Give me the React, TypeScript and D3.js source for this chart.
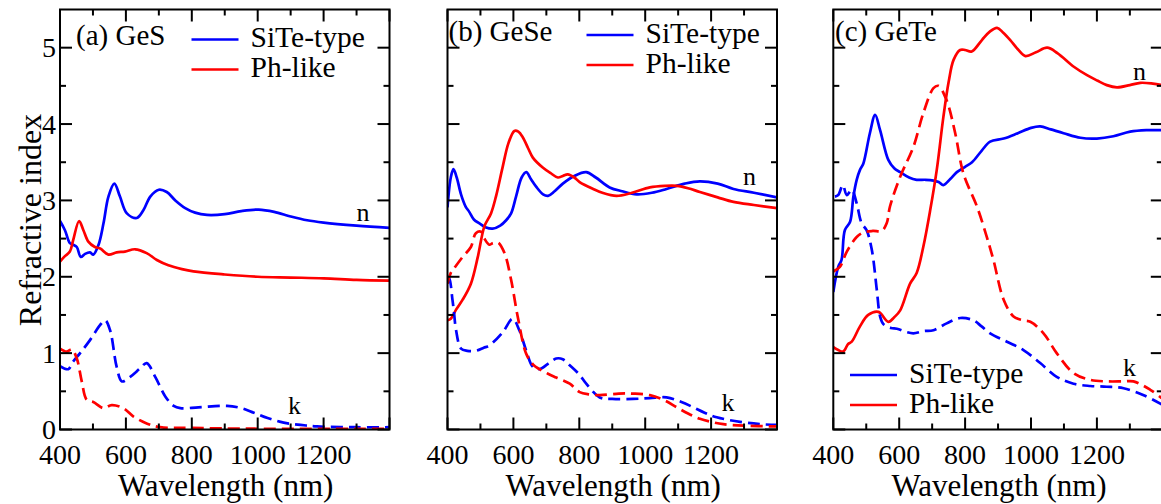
import React from "react";
import * as d3 from "d3";

// ---------- data (wavelength nm, value) ----------
const xTicksMajor = [400, 600, 800, 1000, 1200, 1400];
const xTickLabels = ["400", "600", "800", "1000", "1200", ""];
const yTicksMajor = [0, 1, 2, 3, 4, 5];
const yTickLabels = ["0", "1", "2", "3", "4", "5"];

const geS_SiTe_n: [number, number][] = [[400,2.73],[415,2.61],[430,2.44],[440,2.42],[451,2.39],[463,2.26],[476,2.30],[491,2.32],[501,2.29],[517,2.42],[532,2.70],[547,3.05],[565,3.22],[582,3.05],[603,2.83],[633,2.77],[653,2.87],[674,3.05],[700,3.14],[724,3.11],[750,3.0],[780,2.9],[810,2.84],[846,2.81],[900,2.82],[950,2.86],[1003,2.88],[1050,2.85],[1100,2.79],[1150,2.74],[1200,2.71],[1300,2.67],[1400,2.64]];
const geS_Ph_n: [number, number][] = [[400,2.20],[415,2.27],[430,2.33],[440,2.48],[458,2.73],[471,2.61],[486,2.46],[506,2.39],[522,2.37],[547,2.29],[572,2.32],[597,2.33],[628,2.36],[663,2.31],[694,2.22],[729,2.15],[770,2.10],[805,2.07],[900,2.03],[1000,2.0],[1100,1.99],[1200,1.98],[1300,1.96],[1400,1.95]];
const geS_SiTe_k: [number, number][] = [[400,0.83],[425,0.79],[440,0.89],[461,1.0],[491,1.17],[522,1.37],[537,1.43],[552,1.30],[572,0.82],[588,0.63],[613,0.69],[643,0.80],[663,0.87],[689,0.69],[720,0.43],[745,0.31],[765,0.28],[820,0.29],[907,0.31],[950,0.28],[988,0.22],[1030,0.15],[1079,0.09],[1130,0.06],[1180,0.04],[1300,0.03],[1400,0.03]];
const geS_Ph_k: [number, number][] = [[400,1.06],[420,1.02],[436,1.05],[451,0.93],[466,0.63],[481,0.39],[501,0.36],[532,0.28],[557,0.32],[592,0.28],[623,0.17],[663,0.08],[704,0.03],[800,0.02],[1000,0.01],[1400,0.01]];

const geSe_SiTe_n: [number, number][] = [[400,2.91],[410,3.3],[418,3.41],[428,3.3],[441,3.08],[455,2.92],[466,2.85],[480,2.75],[497,2.70],[515,2.65],[537,2.63],[560,2.67],[578,2.74],[593,2.83],[608,3.05],[625,3.3],[639,3.37],[653,3.28],[669,3.18],[690,3.08],[705,3.06],[725,3.12],[750,3.22],[785,3.32],[821,3.37],[850,3.30],[892,3.17],[930,3.12],[974,3.08],[1020,3.1],[1065,3.15],[1120,3.22],[1166,3.25],[1220,3.22],[1268,3.15],[1330,3.1],[1400,3.04]];
const geSe_Ph_n: [number, number][] = [[400,1.43],[410,1.45],[426,1.57],[446,1.70],[471,1.91],[492,2.26],[512,2.66],[532,2.83],[547,3.05],[567,3.43],[585,3.75],[603,3.91],[615,3.9],[628,3.83],[645,3.68],[659,3.56],[689,3.43],[712,3.36],[735,3.30],[750,3.32],[765,3.34],[785,3.3],[801,3.24],[842,3.15],[870,3.10],[913,3.06],[960,3.1],[1014,3.17],[1060,3.19],[1096,3.19],[1130,3.16],[1166,3.11],[1220,3.04],[1268,2.98],[1330,2.94],[1400,2.90]];
const geSe_SiTe_k: [number, number][] = [[400,1.99],[405,1.98],[415,1.70],[420,1.52],[426,1.30],[441,1.06],[460,1.03],[486,1.03],[510,1.07],[527,1.10],[567,1.27],[598,1.45],[618,1.30],[639,1.03],[659,0.82],[679,0.79],[705,0.86],[730,0.93],[750,0.92],[771,0.84],[800,0.72],[821,0.60],[862,0.42],[900,0.40],[963,0.40],[1014,0.41],[1065,0.42],[1110,0.36],[1146,0.29],[1180,0.22],[1217,0.16],[1288,0.10],[1350,0.07],[1400,0.06]];
const geSe_Ph_k: [number, number][] = [[400,1.91],[410,2.05],[420,2.11],[446,2.26],[471,2.39],[486,2.57],[502,2.59],[512,2.50],[527,2.42],[537,2.44],[553,2.45],[573,2.31],[593,1.96],[613,1.48],[639,0.99],[660,0.85],[679,0.79],[705,0.73],[730,0.68],[771,0.60],[801,0.49],[830,0.46],[862,0.45],[920,0.47],[963,0.47],[1014,0.45],[1060,0.38],[1096,0.29],[1130,0.21],[1166,0.14],[1200,0.10],[1237,0.07],[1300,0.05],[1400,0.04]];

const geTe_SiTe_n: [number, number][] = [[400,1.80],[415,2.13],[425,2.22],[435,2.61],[451,2.72],[461,3.05],[471,3.27],[481,3.40],[491,3.48],[511,3.88],[527,4.12],[542,3.92],[567,3.53],[585,3.42],[603,3.37],[630,3.3],[653,3.27],[680,3.27],[704,3.26],[720,3.24],[734,3.20],[755,3.28],[775,3.37],[800,3.44],[821,3.50],[850,3.65],[876,3.77],[917,3.81],[960,3.88],[1000,3.95],[1028,3.97],[1060,3.93],[1099,3.88],[1150,3.82],[1200,3.81],[1250,3.84],[1301,3.90],[1350,3.92],[1400,3.92]];
const geTe_Ph_n: [number, number][] = [[400,1.08],[415,1.04],[430,1.02],[445,1.12],[456,1.15],[481,1.35],[506,1.50],[537,1.54],[567,1.41],[585,1.47],[603,1.56],[633,1.91],[653,2.05],[673,2.39],[694,2.87],[714,3.40],[734,4.09],[750,4.55],[765,4.84],[785,4.97],[800,4.97],[820,4.95],[851,5.10],[875,5.21],[897,5.26],[915,5.2],[937,5.10],[960,4.98],[983,4.89],[1015,4.94],[1049,5.0],[1080,4.93],[1130,4.75],[1170,4.64],[1201,4.57],[1230,4.51],[1261,4.48],[1300,4.51],[1332,4.54],[1370,4.53],[1400,4.51]];
const geTe_SiTe_k: [number, number][] = [[405,3.05],[415,3.07],[429,3.20],[441,3.07],[456,3.14],[471,2.96],[486,2.70],[501,2.61],[517,2.35],[532,1.83],[542,1.48],[552,1.38],[575,1.33],[593,1.32],[620,1.28],[643,1.26],[675,1.29],[704,1.30],[744,1.39],[785,1.46],[825,1.43],[850,1.35],[876,1.26],[927,1.15],[977,1.04],[1028,0.87],[1078,0.69],[1129,0.60],[1180,0.57],[1230,0.56],[1281,0.54],[1342,0.45],[1400,0.32]];
const geTe_Ph_k: [number, number][] = [[400,2.07],[420,2.13],[441,2.33],[471,2.52],[491,2.58],[520,2.60],[547,2.60],[562,2.70],[572,2.92],[603,3.31],[643,3.70],[673,4.14],[704,4.47],[719,4.50],[744,4.31],[770,3.88],[795,3.35],[836,2.92],[866,2.52],[886,2.22],[917,1.70],[947,1.48],[975,1.43],[998,1.41],[1038,1.26],[1078,1.0],[1129,0.74],[1180,0.65],[1230,0.63],[1281,0.63],[1311,0.63],[1362,0.52],[1400,0.40]];

const seriesNames = ["SiTe-type", "Ph-like"];
const seriesColors = ["#0000ff", "#ff0000"];

const FONT = "'Liberation Serif', 'Times New Roman', Tinos, serif";
const ts = (size: number) => ({ fontFamily: FONT, fontSize: size + "px" });

type Panel = {
  key: string;
  label: string;
  x0: number;
  labelPos: [number, number];
  legendPos: [number, number];
  nPos: [number, number];
  kPos: [number, number];
  yLabels: boolean;
  data: [number, number][][];
};

const TOP = 9.5;
const BOTTOM = 429.5;
const PW = 329.5;

const panels: Panel[] = [
  { key: "a", label: "(a) GeS", x0: 60, labelPos: [76, 45], legendPos: [191.5, 39.5], nPos: [356.5, 221], kPos: [288, 414], yLabels: true,
    data: [geS_SiTe_n, geS_Ph_n, geS_SiTe_k, geS_Ph_k] },
  { key: "b", label: "(b) GeSe", x0: 447.5, labelPos: [448.5, 40.5], legendPos: [586.5, 35], nPos: [743, 185], kPos: [721.5, 411], yLabels: false,
    data: [geSe_SiTe_n, geSe_Ph_n, geSe_SiTe_k, geSe_Ph_k] },
  { key: "c", label: "(c) GeTe", x0: 833.3, labelPos: [835, 40.5], legendPos: [850, 375], nPos: [1133, 80], kPos: [1123, 376], yLabels: false,
    data: [geTe_SiTe_n, geTe_Ph_n, geTe_SiTe_k, geTe_Ph_k] },
];

function PanelView({ p }: { p: Panel }) {
  const xs = d3.scaleLinear().domain([400, 1400]).range([p.x0, p.x0 + PW]);
  const ys = d3.scaleLinear().domain([0, 5.5]).range([BOTTOM, TOP]);
  const line = d3
    .line<[number, number]>()
    .x((d) => xs(d[0]))
    .y((d) => ys(d[1]))
    .curve(d3.curveCatmullRom.alpha(0.5));
  const xMinor = d3.range(500, 1400, 200);
  const yMinor = d3.range(0.5, 5.5, 1);
  const x1 = p.x0 + PW;
  const clipId = "clip-" + p.key;
  return (
    <g>
      <defs>
        <clipPath id={clipId}>
          <rect x={p.x0} y={TOP} width={PW} height={BOTTOM - TOP} />
        </clipPath>
      </defs>
      <g clipPath={`url(#${clipId})`} fill="none" strokeWidth={2.7} strokeLinejoin="round">
        {p.data.map((d, i) => (
          <path
            key={i}
            d={line(d) || ""}
            stroke={seriesColors[i % 2]}
            strokeDasharray={i >= 2 ? "12,6" : undefined}
          />
        ))}
      </g>
      <g stroke="#000" strokeWidth={2}>
        {xTicksMajor.map((t) => (
          <g key={"xm" + t}>
            <line x1={xs(t)} x2={xs(t)} y1={BOTTOM} y2={BOTTOM - 12} />
            <line x1={xs(t)} x2={xs(t)} y1={TOP} y2={TOP + 12} />
          </g>
        ))}
        {xMinor.map((t) => (
          <g key={"xn" + t}>
            <line x1={xs(t)} x2={xs(t)} y1={BOTTOM} y2={BOTTOM - 6} />
            <line x1={xs(t)} x2={xs(t)} y1={TOP} y2={TOP + 6} />
          </g>
        ))}
        {yTicksMajor.map((t) => (
          <g key={"ym" + t}>
            <line x1={p.x0} x2={p.x0 + 12} y1={ys(t)} y2={ys(t)} />
            <line x1={x1} x2={x1 - 12} y1={ys(t)} y2={ys(t)} />
          </g>
        ))}
        {yMinor.map((t) => (
          <g key={"yn" + t}>
            <line x1={p.x0} x2={p.x0 + 6} y1={ys(t)} y2={ys(t)} />
            <line x1={x1} x2={x1 - 6} y1={ys(t)} y2={ys(t)} />
          </g>
        ))}
        <rect x={p.x0} y={TOP} width={PW} height={BOTTOM - TOP} fill="none" />
      </g>
      {xTicksMajor.map((t, i) => (
        <text key={"xl" + t} x={xs(t)} y={464} textAnchor="middle" fill="#000" style={ts(28)}>
          {xTickLabels[i]}
        </text>
      ))}
      {p.yLabels &&
        yTicksMajor.map((t, i) => (
          <text key={"yl" + t} x={p.x0 - 4} y={ys(t)} dy="0.34em" textAnchor="end" fill="#000" style={ts(28)}>
            {yTickLabels[i]}
          </text>
        ))}
      <text x={p.x0 + PW / 2 + 1} y={495.5} textAnchor="middle" fill="#000" style={ts(31)}>
        Wavelength (nm)
      </text>
      <text x={p.labelPos[0]} y={p.labelPos[1]} fill="#000" style={ts(29)}>
        {p.label}
      </text>
      {seriesNames.map((s, i) => (
        <g key={s}>
          <line
            x1={p.legendPos[0]}
            x2={p.legendPos[0] + 47}
            y1={p.legendPos[1] + i * 30}
            y2={p.legendPos[1] + i * 30}
            stroke={seriesColors[i]}
            strokeWidth={2.7}
          />
          <text x={p.legendPos[0] + 59} y={p.legendPos[1] + i * 30 + 7.5} fill="#000" style={ts(29.5)}>
            {s}
          </text>
        </g>
      ))}
      <text x={p.nPos[0]} y={p.nPos[1]} fill="#000" style={ts(26)}>n</text>
      <text x={p.kPos[0]} y={p.kPos[1]} fill="#000" style={ts(26)}>k</text>
    </g>
  );
}

export default function App() {
  return (
    <svg
      width={1161}
      height={504}
      style={{ position: "absolute", left: 0, top: 0, background: "#fff" }}
    >
      <rect x={0} y={0} width={1161} height={504} fill="#fff" />
      {panels.map((p) => (
        <PanelView key={p.key} p={p} />
      ))}
      <text
        transform="translate(41,220) rotate(-90)"
        textAnchor="middle"
        fill="#000"
        style={ts(32)}
      >
        Refractive index
      </text>
    </svg>
  );
}
